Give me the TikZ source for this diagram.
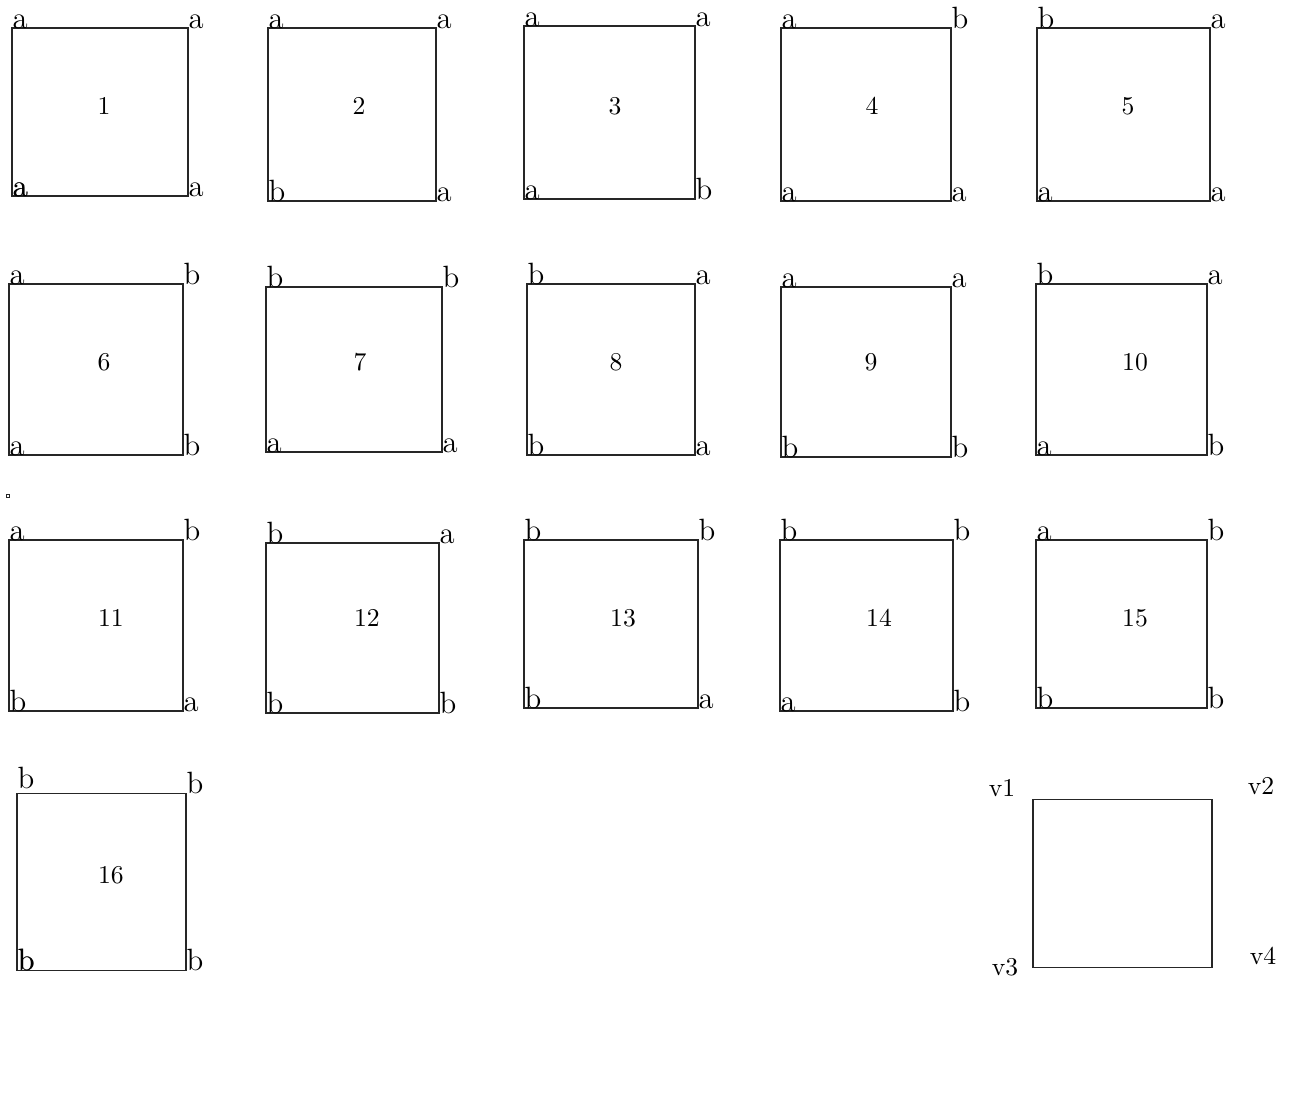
\documentclass[tikz,border=0pt]{standalone}
\usepackage{tikz}
\usetikzlibrary{positioning}

\begin{document}
\begin{tikzpicture}[
  x=0.39pt, y=-0.39pt,
  tileline/.style={draw=black!85, line width=0.4pt},
  tilenum/.style={inner sep=0pt},
  corner/.style={anchor=base west, inner sep=0pt, font=\large},
  vlabel/.style={anchor=base, inner sep=0pt},
]
  \useasboundingbox (0,0) rectangle (1293,1114);
  % the sixteen tiles: number/left/top/right/bottom/num x/num y/corner letters
  \foreach \n/\l/\t/\r/\b/\cx/\cy/\tl/\tr/\bl/\br in {
      1/12/28/188/196/104/106/a/a/a/a,
      2/268/28/436/201/359/106/a/a/b/a,
      3/524/26/695/199/615/106/a/a/a/b,
      4/781/28/951/201/872/106/a/b/a/a,
      5/1037/28/1210/201/1128/106/b/a/a/a,
      6/9/284/183/455/104/362/a/b/a/b,
      7/266/287/442/452/360/362/b/b/a/a,
      8/527/284/695/455/616/362/b/a/b/a,
      9/781/287/951/457/871/362/a/a/b/b,
      10/1036/284/1207/455/1135/362/b/a/a/b,
      11/9/540/183/711/111/618/a/b/b/a,
      12/266/543/439/713/367/618/b/a/b/b,
      13/524/540/698/708/623/618/b/b/b/a,
      14/780/540/953/711/879/618/b/b/a/b,
      15/1036/540/1207/708/1135/618/a/b/b/b} {
    \draw[tileline] (\l,\t) rectangle (\r,\b);
    \node[tilenum] (num\n) at (\cx,\cy) {\n};
    \node[corner] (tl\n) at (\l,\t) {\tl};
    \node[corner] (tr\n) at (\r,\t) {\tr};
    \node[corner] (bl\n) at (\l,\b) {\bl};
    \node[corner] (br\n) at (\r,\b) {\br};
  }
  \node[corner] (bl1x) at (12.7,196) {a};

  % tile 16
  \draw[tileline] (17,793) rectangle (186,970);
  \node[tilenum] (num16) at (111,875) {16};
  \node[corner] (tl16) at (17,788) {b};
  \node[corner] (tr16) at (186,793) {b};
  \node[corner] (bl16) at (17,970) {b};
  \node[corner] (bl16x) at (17.7,970) {b};
  \node[corner] (br16) at (186,970) {b};

  % stray dot
  \draw[tileline, line width=0.3pt] (6.8,494.5) rectangle (9.2,496.9);

  % vertex key
  \draw[tileline] (1033,799) rectangle (1212,967);
  \node[vlabel] (v1) at (1002,796) {v1};
  \node[vlabel] (v2) at (1261,794) {v2};
  \node[vlabel] (v3) at (1005,975) {v3};
  \node[vlabel] (v4) at (1263,964) {v4};
\end{tikzpicture}
\end{document}
